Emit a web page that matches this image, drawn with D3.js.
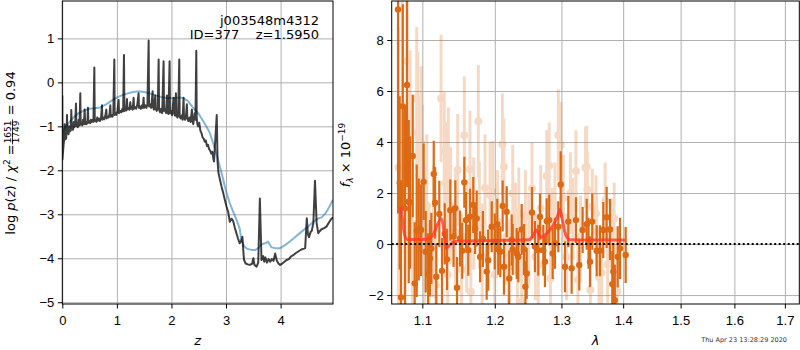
<!DOCTYPE html>
<html>
<head>
<meta charset="utf-8">
<script src="https://cdn.jsdelivr.net/npm/d3@7"></script>
<style>
  body { margin: 0; background: #fff; }
  svg { font-family: "DejaVu Sans", sans-serif; }
  .ejes text { font-size: 13px; fill: #000; }
  .ejes line { stroke: #000; stroke-width: 1; }
  .ejes path { display: none; }
  .rejilla line { stroke: #b0b0b0; stroke-width: 1; }
  .rejilla path, .rejilla text { display: none; }
</style>
</head>
<body>
<svg id="fig" width="800" height="350"></svg>
<script>
// ---- datos del panel izquierdo: log p(z) ----
const zDomain = [0, 4.96];
const logpDomain = [-5.04, 1.85];
const zTicks = [0, 1, 2, 3, 4];
const logpTicks = [-5, -4, -3, -2, -1, 0, 1];

// curva ruidosa (chi2) [z, log p]
const logpChi2 = [
  [0.000,-0.30],[0.003,-1.75],[0.015,-1.55],[0.025,-1.40],[0.035,-1.30],[0.043,-0.95],[0.050,-1.30],[0.060,-1.22],
  [0.070,-1.28],[0.080,-1.10],[0.086,-0.74],[0.093,-1.15],[0.105,-1.10],[0.115,-1.18],[0.125,-1.00],[0.135,-1.12],
  [0.145,-1.05],[0.155,-1.10],[0.165,-0.63],[0.172,-1.05],[0.185,-1.00],[0.195,-1.08],[0.210,-0.90],[0.220,-1.02],
  [0.235,-0.98],[0.251,-0.48],[0.258,-1.00],[0.270,-0.95],[0.285,-1.02],[0.300,-0.85],[0.315,-0.98],[0.330,-0.25],
  [0.337,-0.96],[0.350,-0.92],[0.365,-0.98],[0.380,-0.85],[0.395,-0.95],[0.410,-0.62],[0.418,-0.95],[0.430,-0.90],
  [0.445,-0.95],[0.460,-0.88],[0.470,-0.58],[0.478,-0.92],[0.495,-0.88],[0.510,-0.93],[0.525,-0.85],[0.540,-0.90],
  [0.555,-0.85],[0.570,-0.90],[0.587,0.34],[0.595,-0.88],[0.610,-0.85],[0.625,-0.90],[0.640,-0.80],[0.655,-0.87],
  [0.670,-0.82],[0.690,-0.88],[0.710,-0.80],[0.727,-0.52],[0.735,-0.85],[0.750,-0.80],[0.770,-0.84],[0.790,-0.75],
  [0.806,-0.62],[0.815,-0.82],[0.830,-0.78],[0.850,-0.80],[0.865,-0.72],[0.880,-0.52],[0.888,-0.78],[0.905,-0.74],
  [0.920,-0.78],[0.935,-0.70],[0.953,0.52],[0.960,-0.74],[0.975,-0.70],[0.990,-0.74],[1.010,-0.65],[1.032,-0.40],
  [1.040,-0.70],[1.060,-0.65],[1.080,-0.68],[1.100,-0.60],[1.115,-0.66],[1.130,0.62],[1.138,-0.65],[1.155,-0.60],
  [1.170,-0.64],[1.185,-0.38],[1.193,-0.62],[1.210,-0.58],[1.230,-0.62],[1.246,-0.45],[1.255,-0.60],[1.275,-0.55],
  [1.290,-0.62],[1.307,-0.35],[1.315,-0.60],[1.335,-0.56],[1.355,-0.60],[1.375,-0.50],[1.398,-0.25],[1.405,-0.58],
  [1.420,-0.54],[1.440,-0.60],[1.460,-0.52],[1.475,-0.58],[1.490,-0.35],[1.498,-0.58],[1.520,-0.52],[1.540,-0.58],
  [1.560,-0.50],[1.582,0.95],[1.590,-0.55],[1.610,-0.50],[1.630,-0.58],[1.655,-0.20],[1.663,-0.55],[1.680,-0.62],
  [1.704,-0.30],[1.712,-0.60],[1.730,-0.65],[1.750,-0.58],[1.765,0.52],[1.773,-0.62],[1.790,-0.68],[1.810,-0.60],
  [1.830,-0.70],[1.856,0.48],[1.864,-0.65],[1.885,-0.62],[1.900,-0.70],[1.917,-0.30],[1.925,-0.68],[1.945,-0.72],
  [1.966,0.48],[1.974,-0.70],[1.990,-0.65],[2.010,-0.75],[2.040,-0.35],[2.048,-0.70],[2.065,-0.76],[2.082,-0.25],
  [2.090,-0.74],[2.110,-0.80],[2.125,-0.70],[2.143,0.52],[2.151,-0.78],[2.170,-0.82],[2.190,-0.75],[2.205,-0.85],
  [2.222,-0.35],[2.230,-0.80],[2.250,-0.85],[2.265,-0.78],[2.283,-0.50],[2.291,-0.82],[2.310,-0.88],[2.330,-0.80],
  [2.350,-0.90],[2.375,-0.62],[2.383,-0.88],[2.400,-0.95],[2.424,-0.70],[2.440,-0.85],[2.455,0.72],[2.463,-0.80],
  [2.475,-0.95],[2.490,-1.00],[2.510,-0.92],[2.530,-1.10],[2.550,-1.15],[2.570,-1.25],[2.590,-1.28],[2.610,-1.35],
  [2.630,-1.32],[2.650,-1.45],[2.670,-1.42],[2.690,-1.52],[2.710,-1.55],[2.730,-1.62],[2.750,-1.58],[2.770,-1.75],
  [2.780,-1.80],[2.830,-0.74],[2.845,-1.80],[2.860,-2.05],[2.890,-2.22],[2.920,-2.38],[2.950,-2.52],[2.980,-2.68],
  [3.010,-2.83],[3.040,-2.95],[3.070,-3.17],[3.100,-3.10],[3.130,-3.15],[3.160,-3.30],[3.190,-3.43],[3.220,-3.55],
  [3.250,-3.66],[3.280,-3.60],[3.300,-3.51],[3.315,-3.80],[3.330,-4.04],[3.360,-4.12],[3.400,-4.14],[3.440,-4.15],
  [3.480,-4.12],[3.500,-4.00],[3.520,-4.15],[3.560,-4.19],[3.590,-4.10],[3.620,-2.64],[3.650,-4.04],[3.680,-3.95],
  [3.700,-4.08],[3.720,-3.98],[3.750,-4.10],[3.780,-4.02],[3.810,-4.08],[3.840,-4.02],[3.870,-4.06],[3.900,-3.89],
  [3.930,-4.05],[3.960,-4.12],[3.990,-4.15],[4.030,-4.12],[4.070,-4.08],[4.110,-4.04],[4.150,-4.02],[4.190,-3.96],
  [4.230,-3.93],[4.280,-3.88],[4.330,-3.84],[4.380,-3.80],[4.430,-3.78],[4.450,-3.77],[4.480,-3.09],[4.500,-3.45],
  [4.520,-3.52],[4.550,-3.40],[4.570,-3.38],[4.600,-3.20],[4.630,-2.24],[4.660,-3.20],[4.690,-3.43],[4.720,-3.38],
  [4.750,-3.34],[4.790,-3.32],[4.840,-3.28],[4.880,-3.20],[4.920,-3.12],[4.960,-3.07]
];

// curva suave (prior) [z, log p]
const logpSmooth = [
  [0.00,-1.15],[0.05,-1.02],[0.10,-0.95],[0.20,-0.80],[0.30,-0.70],[0.40,-0.64],[0.50,-0.60],[0.60,-0.59],
  [0.70,-0.57],[0.80,-0.50],[0.90,-0.42],[1.00,-0.34],[1.10,-0.29],[1.20,-0.25],[1.30,-0.22],[1.40,-0.20],
  [1.50,-0.22],[1.60,-0.25],[1.70,-0.29],[1.80,-0.33],[1.90,-0.35],[2.00,-0.36],[2.10,-0.35],[2.20,-0.35],
  [2.30,-0.42],[2.38,-0.55],[2.50,-0.72],[2.60,-0.92],[2.70,-1.14],[2.80,-1.52],[2.85,-1.75],[2.92,-2.07],
  [3.01,-2.52],[3.07,-2.75],[3.13,-2.94],[3.19,-3.12],[3.25,-3.32],[3.28,-3.58],[3.33,-3.72],[3.38,-3.78],
  [3.46,-3.81],[3.54,-3.81],[3.60,-3.76],[3.65,-3.68],[3.72,-3.66],[3.77,-3.62],[3.83,-3.75],[3.90,-3.77],
  [3.99,-3.77],[4.08,-3.70],[4.17,-3.62],[4.30,-3.48],[4.42,-3.36],[4.52,-3.26],[4.60,-3.17],[4.68,-3.10],
  [4.75,-3.07],[4.82,-2.98],[4.88,-2.86],[4.96,-2.67]
];

// ---- datos del panel derecho: espectro ----
const lamDomain = [1.0603, 1.7297];
const fluxDomain = [-2.35, 9.53];
const lamTicks = [1.1, 1.2, 1.3, 1.4, 1.5, 1.6, 1.7];
const fluxTicks = [-2, 0, 2, 4, 6, 8];

// puntos claros [lambda, flujo, error]
const fluxLight = [
  [1.0690,3.00,5.5],[1.0740,5.41,4.2],[1.0774,1.40,3.4],[1.0800,7.18,3.6],[1.0840,4.00,3.6],[1.0870,0.80,3.4],
  [1.0926,5.71,2.8],[1.0940,4.34,3.2],[1.0960,2.70,3.0],[1.0983,3.97,3.0],[1.1000,2.67,2.8],[1.1030,-0.17,2.6],
  [1.1060,1.50,2.8],[1.1090,-1.00,2.6],[1.1150,0.50,2.6],[1.1180,-1.60,2.4],[1.1250,5.71,2.5],[1.1294,3.65,2.3],
  [1.1310,2.38,2.4],[1.1340,-1.20,2.3],[1.1349,3.06,2.3],[1.1380,1.50,2.3],[1.1445,0.48,2.3],[1.1477,2.90,2.2],
  [1.1530,-1.00,2.2],[1.1569,4.27,2.3],[1.1600,0.30,2.2],[1.1648,2.93,2.3],[1.1660,-1.87,2.0],[1.1700,1.20,2.2],
  [1.1765,4.82,2.2],[1.1780,1.14,2.1],[1.1820,-0.50,2.1],[1.1860,2.20,2.1],[1.1931,1.92,2.1],[1.1970,2.05,2.0],
  [1.2000,-1.20,2.0],[1.2040,0.90,2.0],[1.2110,3.91,2.0],[1.2133,3.03,1.9],[1.2170,0.30,1.9],[1.2200,-0.90,1.9],
  [1.2261,1.99,1.9],[1.2300,0.60,1.8],[1.2330,-0.50,1.9],[1.2350,1.20,1.8],[1.2394,-2.26,1.8],[1.2450,1.10,1.8],
  [1.2500,0.20,1.8],[1.2548,2.18,1.8],[1.2600,-0.50,1.7],[1.2643,-0.82,1.8],[1.2680,1.40,1.7],[1.2772,2.67,1.8],
  [1.2811,3.07,1.7],[1.2830,-1.35,1.7],[1.2860,0.50,1.7],[1.2900,1.50,1.7],[1.2951,4.27,1.8],[1.2988,3.88,1.7],
  [1.3030,1.80,1.7],[1.3080,-0.50,1.7],[1.3140,2.00,1.6],[1.3180,1.00,1.6],[1.3228,2.86,1.6],[1.3260,-1.40,1.6],
  [1.3300,0.30,1.6],[1.3380,3.00,1.6],[1.3400,3.03,1.6],[1.3410,2.14,1.5],[1.3460,-1.80,1.5],[1.3490,1.46,1.5],
  [1.3550,1.20,1.5],[1.3562,0.48,1.5],[1.3600,-1.30,1.5],[1.3640,-1.12,1.5],[1.3700,1.70,1.5],[1.3740,-0.80,1.5],
  [1.3800,0.40,1.4],[1.3850,1.00,1.4],[1.3900,-1.87,1.4]
];

// puntos oscuros [lambda, flujo, error]
const fluxDark = [
  [1.0684,9.20,8.0],[1.0705,2.40,3.4],[1.0722,-2.09,4.5],[1.0745,5.40,4.0],[1.0774,1.40,4.0],[1.0800,6.24,4.0],
  [1.0822,1.66,3.2],[1.0839,1.63,2.6],[1.0874,3.45,2.4],[1.0900,-1.54,2.4],[1.0926,0.52,2.6],[1.0953,0.57,2.0],
  [1.0983,0.55,1.8],[1.1018,2.44,1.5],[1.1045,-0.30,1.6],[1.1076,-1.18,1.6],[1.1102,-0.56,1.5],[1.1120,-0.17,1.4],
  [1.1152,2.75,1.3],[1.1170,1.62,1.4],[1.1186,-1.28,1.3],[1.1227,1.18,1.3],[1.1263,-1.05,1.3],[1.1300,0.40,1.2],
  [1.1331,-0.60,1.2],[1.1376,1.33,1.2],[1.1420,0.30,1.2],[1.1445,1.40,1.1],[1.1468,-1.71,1.2],[1.1509,0.22,1.1],
  [1.1540,-0.26,1.1],[1.1569,2.42,1.0],[1.1592,0.94,1.1],[1.1624,-0.24,1.0],[1.1648,1.07,1.1],[1.1694,1.53,1.1],
  [1.1720,0.61,1.0],[1.1742,1.00,1.1],[1.1790,-0.50,1.0],[1.1830,0.20,1.1],[1.1884,-1.08,1.1],[1.1905,-0.63,1.2],
  [1.1956,0.68,1.0],[1.2000,0.10,1.1],[1.2036,0.78,1.0],[1.2051,-0.20,1.0],[1.2080,-0.30,1.0],[1.2114,1.49,1.0],
  [1.2133,-0.89,1.1],[1.2173,1.27,1.0],[1.2210,-1.35,1.1],[1.2246,0.16,1.0],[1.2261,-0.21,1.0],[1.2320,-0.37,1.0],
  [1.2344,-0.50,1.0],[1.2394,0.57,1.0],[1.2428,-0.21,1.0],[1.2450,-1.67,1.0],[1.2469,-1.15,1.0],[1.2548,1.24,1.0],
  [1.2593,-0.10,1.0],[1.2643,-0.24,1.0],[1.2669,1.07,0.9],[1.2720,-0.24,1.0],[1.2745,-0.69,1.0],[1.2772,0.90,0.9],
  [1.2811,0.94,1.0],[1.2864,-0.37,1.0],[1.2899,0.03,1.0],[1.2951,0.68,1.0],[1.2988,2.34,1.3],[1.3055,-0.89,1.0],
  [1.3107,0.88,1.0],[1.3160,-0.95,1.0],[1.3228,0.94,0.9],[1.3281,-0.82,1.0],[1.3335,0.55,0.9],[1.3400,0.78,1.0],
  [1.3430,0.03,1.0],[1.3453,-0.69,1.0],[1.3490,0.88,1.1],[1.3562,-0.26,1.0],[1.3615,-0.26,1.0],[1.3669,0.55,1.1],
  [1.3725,1.05,1.2],[1.3780,0.57,1.2],[1.3818,-1.57,1.3],[1.3835,-1.08,1.1],[1.3860,-2.20,1.4],[1.3908,-0.50,1.2],
  [1.3947,-0.17,1.2],[1.4042,-0.43,1.1]
];

// modelo (línea roja) [lambda, flujo]
const fluxModel = [
  [1.0717,1.46],[1.0740,1.00],[1.0760,0.50],[1.0780,0.25],[1.0800,0.18],[1.0900,0.18],[1.1000,0.18],[1.1080,0.20],
  [1.1150,0.40],[1.1200,0.75],[1.1253,1.00],[1.1280,0.70],[1.1300,0.20],[1.1320,-0.17],[1.1350,-0.10],[1.1400,0.05],
  [1.1450,0.10],[1.1500,0.12],[1.2000,0.14],[1.2500,0.17],[1.2560,0.30],[1.2610,0.55],[1.2640,0.45],[1.2680,0.27],
  [1.2720,0.30],[1.2772,0.42],[1.2872,0.74],[1.2940,1.10],[1.2977,1.36],[1.3010,1.00],[1.3050,0.50],[1.3090,0.25],
  [1.3130,0.17],[1.3500,0.16],[1.4030,0.16]
];

const titulo1 = "j003548m4312";
const titulo2 = "ID=377    z=1.5950";
const fecha = "Thu Apr 23 13:28:29 2020";

// ---- construir la figura ----
const svg = d3.select("#fig");
const fmt = (d) => String(d).replace("-", "\u2212");
const naranja = "#dc6a14";

// panel izquierdo
const pL = { left: 62.3, right: 333, top: 1, bottom: 304 };
const x1 = d3.scaleLinear().domain(zDomain).range([pL.left, pL.right]);
const y1 = d3.scaleLinear().domain(logpDomain).range([pL.bottom, pL.top]);

// panel derecho (eje x logarítmico)
const pR = { left: 391.7, right: 799.3, top: 1, bottom: 304 };
const x2 = d3.scaleLog().domain(lamDomain).range([pR.left, pR.right]);
const y2 = d3.scaleLinear().domain(fluxDomain).range([pR.bottom, pR.top]);

const defs = svg.append("defs");
[["clipL", pL], ["clipR", pR]].forEach(([id, p]) => {
  defs.append("clipPath").attr("id", id).append("rect")
    .attr("x", p.left).attr("y", p.top)
    .attr("width", p.right - p.left).attr("height", p.bottom - p.top);
});

// rejillas
const rejilla = (p, x, y, xt, yt) => {
  svg.append("g").attr("class", "rejilla").attr("transform", `translate(0,${p.bottom})`)
    .call(d3.axisBottom(x).tickValues(xt).tickSize(-(p.bottom - p.top)).tickFormat(""));
  svg.append("g").attr("class", "rejilla").attr("transform", `translate(${p.left},0)`)
    .call(d3.axisLeft(y).tickValues(yt).tickSize(-(p.right - p.left)).tickFormat(""));
};
rejilla(pL, x1, y1, zTicks, logpTicks);
rejilla(pR, x2, y2, lamTicks, fluxTicks);

// curvas p(z)
const gL = svg.append("g").attr("clip-path", "url(#clipL)");
const lineaL = d3.line().x(d => x1(d[0])).y(d => y1(d[1]));
gL.append("path").datum(logpSmooth).attr("d", lineaL)
  .attr("fill", "none").attr("stroke", "#1f77b4").attr("stroke-opacity", 0.55)
  .attr("stroke-width", 2).attr("stroke-linejoin", "round");
gL.append("path").datum(logpChi2).attr("d", lineaL)
  .attr("fill", "none").attr("stroke", "#000").attr("stroke-opacity", 0.75)
  .attr("stroke-width", 2).attr("stroke-linejoin", "round");

// espectro
const gR = svg.append("g").attr("clip-path", "url(#clipR)");
const puntos = (datos, opac, ancho, r) => {
  const g = gR.append("g").attr("opacity", opac);
  g.selectAll("line").data(datos).enter().append("line")
    .attr("x1", d => x2(d[0])).attr("x2", d => x2(d[0]))
    .attr("y1", d => y2(d[1] - d[2])).attr("y2", d => y2(d[1] + d[2]))
    .attr("stroke", naranja).attr("stroke-width", ancho);
  g.selectAll("circle").data(datos).enter().append("circle")
    .attr("cx", d => x2(d[0])).attr("cy", d => y2(d[1])).attr("r", r)
    .attr("fill", naranja);
};
puntos(fluxLight, 0.25, 3, 4);
puntos(fluxDark, 1, 2.2, 3.2);

gR.append("path").datum(fluxModel)
  .attr("d", d3.line().x(d => x2(d[0])).y(d => y2(d[1])).curve(d3.curveMonotoneX))
  .attr("fill", "none").attr("stroke", "#ff3a2a").attr("stroke-opacity", 0.8)
  .attr("stroke-width", 3).attr("stroke-linejoin", "round");

gR.append("line")
  .attr("x1", pR.left).attr("x2", pR.right).attr("y1", y2(0)).attr("y2", y2(0))
  .attr("stroke", "#000").attr("stroke-width", 2).attr("stroke-dasharray", "2,2.5");

// ejes y marcos
const ejes = (p, x, y, xt, yt) => {
  svg.append("g").attr("class", "ejes").attr("transform", `translate(0,${p.bottom})`)
    .call(d3.axisBottom(x).tickValues(xt).tickSize(4.5).tickPadding(7).tickFormat(fmt));
  svg.append("g").attr("class", "ejes").attr("transform", `translate(${p.left},0)`)
    .call(d3.axisLeft(y).tickValues(yt).tickSize(4.5).tickPadding(3.5).tickFormat(fmt));
  svg.append("rect").attr("x", p.left).attr("y", p.top)
    .attr("width", p.right - p.left).attr("height", p.bottom - p.top)
    .attr("fill", "none").attr("stroke", "#000").attr("stroke-width", 1);
};
ejes(pL, x1, y1, zTicks, logpTicks);
ejes(pR, x2, y2, lamTicks, fluxTicks);

// textos del panel izquierdo
svg.append("text").attr("x", 319).attr("y", 25).attr("text-anchor", "end")
  .attr("font-size", 13).text(titulo1);
svg.append("text").attr("x", 319).attr("y", 39).attr("text-anchor", "end")
  .attr("font-size", 13).style("white-space", "pre").text(titulo2);

// títulos de los ejes x
svg.append("text").attr("x", (pL.left + pL.right) / 2).attr("y", 345)
  .attr("text-anchor", "middle").attr("font-size", 13).attr("font-style", "italic").text("z");
svg.append("text").attr("x", (pR.left + pR.right) / 2).attr("y", 345)
  .attr("text-anchor", "middle").attr("font-size", 13).attr("font-style", "italic").text("λ");

// título eje y izquierdo (con fracción)
const gy = svg.append("g").attr("transform", "translate(15,0) rotate(-90)");
const t1 = gy.append("text").attr("font-size", 13).attr("x", 0).attr("y", 0);
t1.append("tspan").text("log ");
t1.append("tspan").attr("font-style", "italic").text("p");
t1.append("tspan").text("(");
t1.append("tspan").attr("font-style", "italic").text("z");
t1.append("tspan").text(") / ");
t1.append("tspan").attr("font-style", "italic").text("χ");
t1.append("tspan").attr("font-size", 9).attr("dy", -5).text("2");
t1.append("tspan").attr("dy", 5).text(" = ");
const w1 = t1.node().getComputedTextLength();
const num = gy.append("text").attr("font-size", 9).attr("text-anchor", "middle").attr("y", -3.8).text("1651");
const den = gy.append("text").attr("font-size", 9).attr("text-anchor", "middle").attr("y", 4).text("1749");
const wf = Math.max(num.node().getComputedTextLength(), den.node().getComputedTextLength()) + 2;
num.attr("x", w1 + wf / 2);
den.attr("x", w1 + wf / 2);
gy.append("line").attr("x1", w1).attr("x2", w1 + wf).attr("y1", -2.5).attr("y2", -2.5)
  .attr("stroke", "#000").attr("stroke-width", 0.8);
const t2 = gy.append("text").attr("font-size", 13).attr("x", w1 + wf).attr("y", 0)
  .style("white-space", "pre").text(" = 0.94");
const wTot = w1 + wf + t2.node().getComputedTextLength();
gy.attr("transform", `translate(15,0) rotate(-90) translate(${-153 - wTot / 2},0)`);

// título eje y derecho
const ty = svg.append("text").attr("font-size", 13).attr("text-anchor", "middle")
  .attr("transform", "translate(350,155) rotate(-90)");
ty.append("tspan").attr("font-style", "italic").text("f");
ty.append("tspan").attr("font-size", 9).attr("font-style", "italic").attr("dy", 3).text("λ");
ty.append("tspan").attr("dy", -3).text(" × 10");
ty.append("tspan").attr("font-size", 9).attr("dy", -5).text("\u221219");

// fecha
svg.append("text").attr("x", 787).attr("y", 342).attr("text-anchor", "end")
  .attr("font-size", 6.5).attr("fill", "#333").text(fecha);
</script>
</body>
</html>
